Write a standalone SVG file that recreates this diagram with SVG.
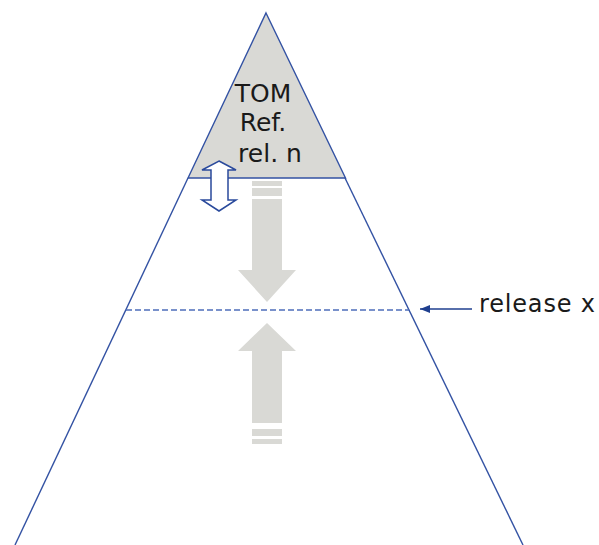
<svg xmlns="http://www.w3.org/2000/svg" width="599" height="545" viewBox="0 0 599 545">
  <defs>
    <style>
      .edge { stroke: #3352a3; stroke-width: 1.4; fill: none; }
      .dash { stroke: #4d6dbb; stroke-width: 1.4; stroke-dasharray: 6 3; fill: none; }
      .grey { fill: #d9d9d5; stroke: none; }
      .lbl { font-family: "DejaVu Sans", Verdana, sans-serif; fill: #1a1a1a; }
    </style>
    <marker id="ah" viewBox="0 0 10 8" refX="10" refY="4" markerWidth="10" markerHeight="8" markerUnits="userSpaceOnUse" orient="auto">
      <path d="M0,0 L10,4 L0,8 Z" fill="#1f3f8f"/>
    </marker>
  </defs>
  <rect width="599" height="545" fill="#ffffff"/>

  <g id="pyramid">
    <line class="edge" x1="188" y1="178" x2="15" y2="545"/>
    <line class="edge" x1="345" y1="178" x2="523" y2="545"/>
    <line class="dash" x1="126" y1="310" x2="409" y2="310"/>
  </g>

  <g id="tom-ref">
    <polygon points="266,13 345.5,178 188,178" fill="#d9d9d5" stroke="#3352a3" stroke-width="1.4"/>
    <text class="lbl" font-size="25" text-anchor="middle">
      <tspan x="267" y="102">TOM</tspan>
      <tspan x="267" y="131">Ref.</tspan>
      <tspan x="270" y="162">rel. n</tspan>
    </text>
  </g>

  <g id="release-x">
    <text class="lbl" x="479" y="312" font-size="24" textLength="116" lengthAdjust="spacing">release x</text>
  </g>

  <g id="connectors">
    <path d="M219,161 L236,170 H228 V200 H236 L219,211 L202,200 H211 V170 H202 Z" fill="#ffffff" stroke="#2a4a9c" stroke-width="1.5" stroke-linejoin="miter"/>
    <rect class="grey" x="252" y="181" width="30" height="5"/>
    <rect class="grey" x="252" y="188" width="30" height="8"/>
    <path class="grey" d="M252,199 H282 V270 H296 L267,302 L238,270 H252 Z"/>
    <path class="grey" d="M267,323 L296,351 H282 V423 H252 V351 H238 Z"/>
    <rect class="grey" x="252" y="429" width="30" height="7"/>
    <rect class="grey" x="252" y="439" width="30" height="5"/>
    <line x1="472" y1="309" x2="420" y2="309" stroke="#1f3f8f" stroke-width="1.4" marker-end="url(#ah)"/>
  </g>
</svg>
